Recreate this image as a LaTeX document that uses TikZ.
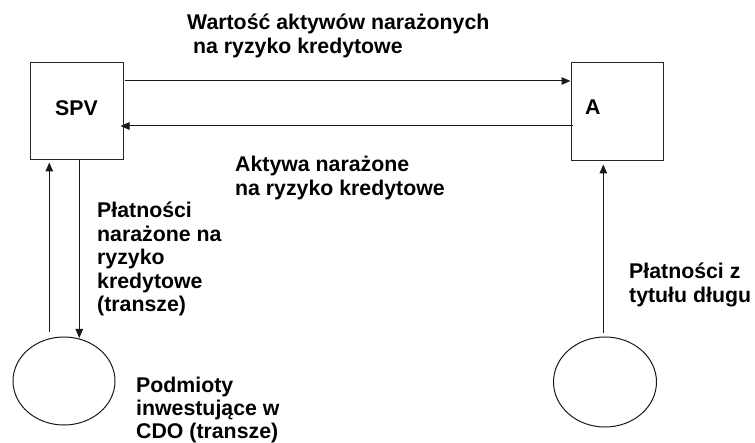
\documentclass[tikz,border=0pt]{standalone}
\usepackage{fontspec}
\setmainfont{Liberation Sans}
\usetikzlibrary{arrows.meta,shapes.geometric}
\newcommand\dgfont{\fontsize{21.3}{23.5}\selectfont\bfseries}
\begin{document}
\begin{tikzpicture}[x=1pt,y=-1pt,
  box/.style={draw=black!85,line width=1pt,minimum width=93pt,minimum height=97pt,inner sep=0pt},
  oval/.style={draw=black!90,line width=1pt,ellipse,minimum width=102pt,minimum height=88pt,inner sep=0pt},
  txt/.style={font=\dgfont,inner sep=0pt,anchor=base west,text=black},
  conn/.style={draw=black!90,line width=1pt},
  arr/.style={conn,-{Triangle[length=9pt,width=7.5pt]}}]
\useasboundingbox (0,0) rectangle (755,443);
% boxes and ovals
\node[box] (spv) at (76.5,111.5) {};
\node[box,minimum width=92pt,minimum height=98pt] (a) at (617,112) {};
\node[oval] (inv) at (64,381) {};
\node[oval,minimum width=103pt,minimum height=90pt] (debt) at (605,382) {};
% texts
\node[txt] (tspv) at (55,116) {SPV};
\node[txt] (ta) at (585,115) {A};
\node[txt] (ttop) at (187,30) {\parbox[t]{330pt}{Wartość aktywów narażonych\\\hspace*{0.278em}na ryzyko kredytowe}};
\node[txt] (tmid) at (235,172) {\parbox[t]{260pt}{Aktywa narażone\\na ryzyko kredytowe}};
\node[txt] (tleft) at (97,218) {\parbox[t]{160pt}{Płatności\\narażone na\\ryzyko\\kredytowe\\(transze)}};
\node[txt] (tinv) at (136,392) {\parbox[t]{180pt}{Podmioty\\inwestujące w\\CDO (transze)}};
\node[txt] (tdebt) at (629,279) {\parbox[t]{130pt}{Płatności z\\tytułu długu}};
% free ends
\coordinate (c1) at (125,81);
\coordinate (c2) at (573,126);
\coordinate (c3) at (49.3,332);
\coordinate (c4) at (603.3,333);
% connectors
\draw[arr] (c1) -- (c1 -| a.west);
\draw[arr] (c2) -- ([xshift=-3pt]c2 -| spv.east);
\draw[arr] (c3) -- ([yshift=-2pt]c3 |- spv.south);
\draw[arr] (spv.south -| 79.3,0) -- ([yshift=-1.5pt]inv.north -| 79.3,0);
\draw[arr] (c4) -- ([yshift=-3pt]c4 |- a.south);
\end{tikzpicture}
\end{document}
